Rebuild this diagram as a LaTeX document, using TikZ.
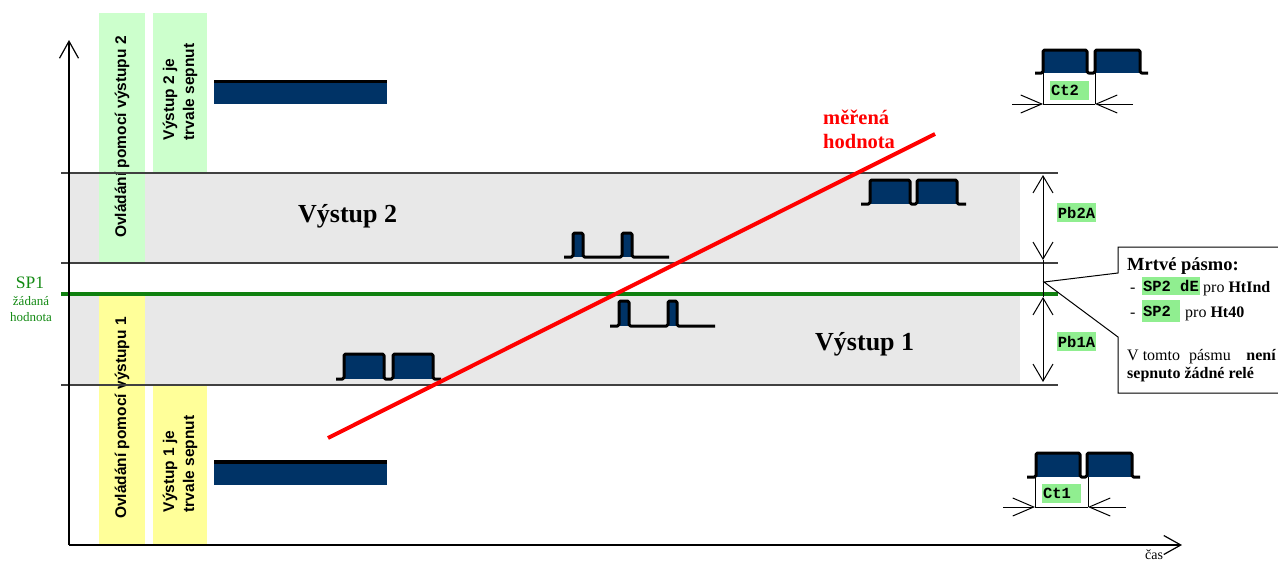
\documentclass[tikz,border=0pt]{standalone}
\usepackage{fontspec}
\setmainfont{Liberation Serif}
\setsansfont{Liberation Sans}
\setmonofont{Liberation Mono}
\usetikzlibrary{arrows.meta}
\definecolor{navy}{HTML}{003366}
\definecolor{bandgray}{HTML}{E8E8E8}
\definecolor{lgreen}{HTML}{CCFFCC}
\definecolor{lyellow}{HTML}{FFFF99}
\definecolor{tagg}{HTML}{90EE90}
\definecolor{spgreen}{HTML}{138A13}
\definecolor{linegreen}{HTML}{0F800F}
\newcommand\myfs[1]{\fontsize{#1}{#1}\selectfont}
\newcommand\mypulse[8]{%
  \fill[navy] (#2,#7) rectangle (#3,#8);
  \fill[navy] (#4,#7) rectangle (#5,#8);
  \draw[pulseline] (#1,#7) -- (#2,#7) -- (#2,#8) -- (#3,#8) -- (#3,#7) -- (#4,#7) -- (#4,#8) -- (#5,#8) -- (#5,#7) -- (#6,#7);
}
\tikzset{
  bandline/.style={draw=black!75, line width=1.3pt},
  vtext/.style={rotate=90, font=\sffamily\bfseries\fontsize{15.5}{20}\selectfont, inner sep=0pt, align=left},
  tag/.style={fill=tagg, font=\ttfamily\bfseries\myfs{15.5}, inner sep=0pt, minimum height=19pt},
  pulseline/.style={line width=3pt, rounded corners=1.5pt, line join=round},
  axisarrow/.style={-{Straight Barb[length=17pt,width=19pt,line width=1.2pt]}, line width=1.3pt},
  dimboth/.style={{Straight Barb[length=17pt,width=20pt,line width=1pt]}-{Straight Barb[length=17pt,width=20pt,line width=1pt]}, line width=1pt},
  ctarrow/.style={-{Straight Barb[length=21pt,width=18pt,line width=1pt]}, line width=1pt},
  txt/.style={inner sep=0pt, anchor=base west},
}
\begin{document}
\begin{tikzpicture}[x=1pt,y=-1pt]
\useasboundingbox (0,0) rectangle (1278,560);
% bands
\fill[bandgray] (69,173) rectangle (1020,263);
\fill[bandgray] (69,294) rectangle (1020,385);
% control boxes
\fill[lgreen] (99,13) rectangle (145,263);
\fill[lgreen] (153,13) rectangle (207,173);
\fill[lyellow] (99,294) rectangle (145,545);
\fill[lyellow] (153,385) rectangle (207,545);
\node[vtext] (ov2) at (122,137) {Ovládání pomocí výstupu 2};
\node[vtext] (vs2) at (180,92) {Výstup 2 je\\trvale sepnut};
\node[vtext] (ov1) at (122,418) {Ovládání pomocí výstupu 1};
\node[vtext] (vs1) at (180,464) {Výstup 1 je\\trvale sepnut};
% band lines
\coordinate (l1a) at (61,173); \coordinate (l1b) at (1058,173);
\coordinate (l2a) at (61,263); \coordinate (l2b) at (1058,263);
\coordinate (l3a) at (61,385); \coordinate (l3b) at (1058,385);
\draw[bandline] (l1a) -- (l1b);
\draw[bandline] (l2a) -- (l2b);
\draw[bandline] (l3a) -- (l3b);
% set point line
\coordinate (spa) at (61,294); \coordinate (spb) at (1058,294);
\draw[linegreen, line width=4pt] (spa) -- (spb);
% axes
\coordinate (o) at (69,545);
\coordinate (ytop) at (69,40);
\coordinate (xend) at (1182,545);
\draw[axisarrow] (o) -- (ytop);
\draw[axisarrow] (o) -- (xend);
\node[txt, font=\myfs{14}] (cas) at (1145,559) {čas};
% permanent bars
\fill[navy] (214,82) rectangle (387,104);
\draw[line width=3.5pt] (214,81.5) -- (387,81.5);
\fill[navy] (214,462) rectangle (387,485);
\draw[line width=4pt] (214,462) -- (387,462);
% pulses
\mypulse{861}{870}{910}{917}{957}{966}{204}{180}
\mypulse{564}{573}{583}{622}{632}{669}{257}{233}
\mypulse{610}{619}{629}{668}{677}{715}{326}{301}
\mypulse{336}{344}{384}{393}{433}{441}{379}{354}
\mypulse{1035}{1043}{1087}{1095}{1140}{1148}{73}{50}
\mypulse{1027}{1036}{1080}{1087}{1132}{1140}{477}{453}
% Ct2 dimension
\coordinate (c2a) at (1043,73); \coordinate (c2a2) at (1043,104);
\coordinate (c2b) at (1095,73); \coordinate (c2b2) at (1095,104);
\coordinate (c2l) at (1012,104); \coordinate (c2r) at (1133,104);
\draw[line width=1pt] (c2a) -- (c2a2);
\draw[line width=1pt] (c2b) -- (c2b2);
\draw[ctarrow] (c2l) -- (c2a2);
\draw[ctarrow] (c2r) -- (c2b2);
\draw[line width=1pt] (c2a2) -- (c2b2);
\node[tag] (ct2) at (1069.5,90.5) {\makebox[39pt][l]{\hspace{1pt}Ct2}};
% Ct1 dimension
\coordinate (c1a) at (1035,477); \coordinate (c1a2) at (1035,507);
\coordinate (c1b) at (1088,477); \coordinate (c1b2) at (1088,507);
\coordinate (c1l) at (1003,507); \coordinate (c1r) at (1126,507);
\draw[line width=1pt] (c1a) -- (c1a2);
\draw[line width=1pt] (c1b) -- (c1b2);
\draw[ctarrow] (c1l) -- (c1a2);
\draw[ctarrow] (c1r) -- (c1b2);
\draw[line width=1pt] (c1a2) -- (c1b2);
\node[tag] (ct1) at (1061.5,493.5) {\makebox[39pt][l]{\hspace{1pt}Ct1}};
% Pb dimensions
\coordinate (pbT) at (1043,175);
\coordinate (pbM1) at (1043,260);
\coordinate (pbM2) at (1043,297);
\coordinate (pbB) at (1043,382);
\draw[dimboth] (pbT) -- (pbM1);
\draw[dimboth] (pbM2) -- (pbB);
\draw[line width=1pt] (pbM1) -- (pbM2);
\node[tag] (pb2a) at (1076.5,212.5) {\makebox[39pt][c]{Pb2A}};
\node[tag] (pb1a) at (1076.5,341.5) {\makebox[39pt][c]{Pb1A}};
% callout
\draw[fill=white, line width=1pt] (1118,247) -- (1290,247) -- (1290,393) -- (1118,393) -- (1118,337) -- (1044,282) -- (1118,273) -- cycle;
\node[txt, font=\bfseries\myfs{18.5}] (mp) at (1127,270) {Mrtvé pásmo:};
\node[txt, font=\myfs{16}] (d1) at (1130,292) {-};
\node[tag, minimum height=18pt] (sp2de) at (1171,286) {\makebox[58pt][l]{\hspace{1pt}SP2 dE}};
\node[txt, font=\myfs{16}] (pro1) at (1203,292) {pro \textbf{HtInd}};
\node[txt, font=\myfs{16}] (d2) at (1130,317) {-};
\node[tag, minimum height=22pt] (sp2) at (1161,311) {\makebox[38pt][l]{\hspace{1pt}SP2}};
\node[txt, font=\myfs{16}] (pro2) at (1185,317) {pro \textbf{Ht40}};
\node[txt, font=\myfs{16}] (vt1) at (1127,360) {V tomto};
\node[inner sep=0pt, anchor=base, font=\myfs{16}] (vt2) at (1210,360) {pásmu};
\node[inner sep=0pt, anchor=base east, font=\bfseries\myfs{16}] (vt3) at (1276,360) {není};
\node[txt, font=\bfseries\myfs{16}] (vt4) at (1127,378) {sepnuto žádné relé};
% band labels
\node[txt, font=\bfseries\myfs{26}] (v2) at (298,222) {Výstup 2};
\node[txt, font=\bfseries\myfs{26}] (v1) at (815,350) {Výstup 1};
% set point label
\node[inner sep=0pt, anchor=base, text=spgreen, font=\myfs{17.5}] (sp1) at (30,288) {SP1};
\node[inner sep=0pt, anchor=base, text=spgreen, font=\myfs{13}] (zad) at (31,305) {žádaná};
\node[inner sep=0pt, anchor=base, text=spgreen, font=\myfs{13}] (hod) at (31,321) {hodnota};
% measured value
\coordinate (r0) at (328,438);
\coordinate (r1) at (935,134);
\draw[red, line width=4pt] (r0) -- (r1);
\node[txt, text=red, font=\bfseries\myfs{20.5}] (mer1) at (823,124) {měřená};
\node[txt, text=red, font=\bfseries\myfs{20.5}] (mer2) at (823,148) {hodnota};
\end{tikzpicture}
\end{document}
